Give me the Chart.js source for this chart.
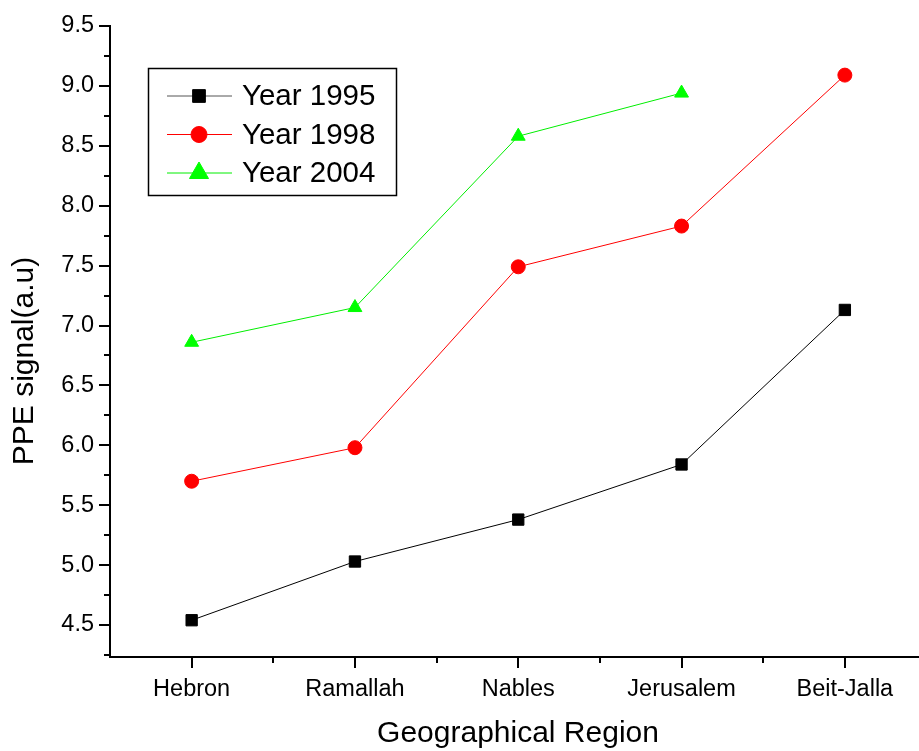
<!DOCTYPE html>
<html>
<head>
<meta charset="utf-8">
<script src="https://cdn.jsdelivr.net/npm/chart.js@4"></script>
<style>
  html, body { margin: 0; padding: 0; background: #fff; }
  canvas { display: block; }
</style>
</head>
<body>
<canvas id="ppeChart" width="919" height="751"></canvas>
<script>
const regions = ["Hebron", "Ramallah", "Nables", "Jerusalem", "Beit-Jalla"];
const year1995 = [4.54, 5.03, 5.38, 5.84, 7.13];
const year1998 = [5.70, 5.98, 7.49, 7.83, 9.09];
const year2004 = [6.86, 7.15, 8.58, 8.94, null];
const yTicks = ["4.5", "5.0", "5.5", "6.0", "6.5", "7.0", "7.5", "8.0", "8.5", "9.0", "9.5"];

const FONT = "'Liberation Sans', Arial, sans-serif";

function toPoints(vals) {
  return vals.map((v, i) => ({ x: i + 1, y: v }));
}

// ticks drawn by hand: major outward, minor shorter; region labels and titles too
const axisTicks = {
  id: "axisTicks",
  afterDraw(chart) {
    const ctx = chart.ctx;
    const x = chart.scales.x, y = chart.scales.y;
    const area = chart.chartArea;
    ctx.save();
    ctx.strokeStyle = "#000";
    ctx.lineWidth = 2;
    ctx.beginPath();
    yTicks.forEach((t) => {
      const v = Number(t);
      const py = Math.round(y.getPixelForValue(v));
      ctx.moveTo(area.left - 11, py);
      ctx.lineTo(area.left, py);
      const pm = Math.round(y.getPixelForValue(v + 0.25));
      if (v + 0.25 <= y.max) {
        ctx.moveTo(area.left - 6, pm);
        ctx.lineTo(area.left, pm);
      }
    });
    const pb = Math.round(y.getPixelForValue(4.25));
    ctx.moveTo(area.left - 6, pb);
    ctx.lineTo(area.left, pb);
    regions.forEach((r, i) => {
      const px = Math.round(x.getPixelForValue(i + 1));
      ctx.moveTo(px, area.bottom);
      ctx.lineTo(px, area.bottom + 11);
      const pm = Math.round(x.getPixelForValue(i + 1.5));
      if (i + 1.5 <= x.max) {
        ctx.moveTo(pm, area.bottom);
        ctx.lineTo(pm, area.bottom + 6);
      }
    });
    ctx.stroke();

    ctx.fillStyle = "#000";
    ctx.font = "23.5px " + FONT;
    ctx.textAlign = "center";
    ctx.textBaseline = "middle";
    regions.forEach((r, i) => {
      ctx.fillText(r, x.getPixelForValue(i + 1), area.bottom + 33);
    });

    ctx.font = "30px " + FONT;
    ctx.fillText("Geographical Region", 518, 734);

    // y title sits a bit below the middle of the axis, as in the original
    ctx.translate(25, 361);
    ctx.rotate(-Math.PI / 2);
    ctx.fillText("PPE signal(a.u)", 0, 0);
    ctx.restore();
  },
};

// boxed legend inside the plot, Origin style
const boxLegend = {
  id: "boxLegend",
  afterDraw(chart) {
    const ctx = chart.ctx;
    ctx.save();
    ctx.strokeStyle = "#000";
    ctx.lineWidth = 1.5;
    ctx.strokeRect(148.5, 68.5, 248, 127);
    const lineCols = ["#555", "#ff0000", "#00ee00"];
    chart.data.datasets.forEach((ds, i) => {
      const cy = 96 + i * 38.5;
      ctx.strokeStyle = lineCols[i];
      ctx.lineWidth = 1;
      ctx.beginPath();
      ctx.moveTo(167, cy);
      ctx.lineTo(232, cy);
      ctx.stroke();
      ctx.fillStyle = ds.pointBackgroundColor;
      ctx.strokeStyle = ds.pointBorderColor;
      Chart.helpers.drawPoint(ctx, {
        pointStyle: ds.pointStyle,
        radius: ds.pointStyle === "triangle" ? 11 : ds.pointRadius + 1,
        rotation: 0,
        borderWidth: 1,
      }, 199, cy);
      ctx.fillStyle = "#000";
      ctx.font = "29.5px " + FONT;
      ctx.textBaseline = "middle";
      ctx.fillText(ds.label, 242, cy + 1);
    });
    ctx.restore();
  },
};

new Chart(document.getElementById("ppeChart"), {
  type: "line",
  data: {
    datasets: [
      {
        label: "Year 1995",
        data: toPoints(year1995),
        borderColor: "#000",
        borderWidth: 1,
        pointStyle: "rect",
        pointRadius: 8,
        pointBackgroundColor: "#000",
        pointBorderColor: "#000",
      },
      {
        label: "Year 1998",
        data: toPoints(year1998),
        borderColor: "#ff0000",
        borderWidth: 1,
        pointStyle: "circle",
        pointRadius: 7,
        pointBackgroundColor: "#ff0000",
        pointBorderColor: "#ff0000",
      },
      {
        label: "Year 2004",
        data: toPoints(year2004),
        borderColor: "#00ee00",
        borderWidth: 1,
        pointStyle: "triangle",
        pointRadius: 8,
        pointBackgroundColor: "#00ff00",
        pointBorderColor: "#00ff00",
      },
    ],
  },
  options: {
    responsive: false,
    animation: false,
    layout: { autoPadding: false, padding: { top: 26, right: 0, left: 0, bottom: 0 } },
    plugins: {
      legend: { display: false },
      tooltip: { enabled: false },
    },
    scales: {
      x: {
        type: "linear",
        min: 0.5,
        max: 5.454,
        afterFit: (scale) => {
          scale.height = 94;
        },
        ticks: { display: false },
        grid: { display: true, drawOnChartArea: false, drawTicks: false },
        border: { color: "#000", width: 2 },
        title: { display: false },
      },
      y: {
        min: 4.233,
        max: 9.5,
        afterBuildTicks: (scale) => {
          scale.ticks = yTicks.map((t) => ({ value: Number(t) }));
        },
        afterFit: (scale) => {
          scale.width = 110;
          scale.paddingTop = 0;
          scale.paddingBottom = 0;
        },
        ticks: {
          color: "#000",
          padding: 16,
          font: { family: FONT, size: 23.5 },
          callback: (v) => yTicks.find((t) => Number(t) === v) || "",
        },
        grid: { display: true, drawOnChartArea: false, drawTicks: false },
        border: { color: "#000", width: 2 },
        title: { display: false },
      },
    },
  },
  plugins: [axisTicks, boxLegend],
});
</script>
</body>
</html>
